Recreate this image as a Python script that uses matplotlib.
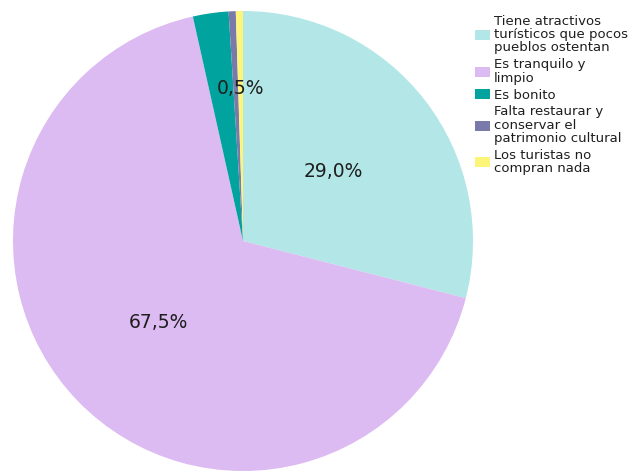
import matplotlib
matplotlib.use("Agg")
import matplotlib.pyplot as plt
import numpy as np
from matplotlib.patches import Patch

categories = ["Tiene atractivos\nturísticos que pocos\npueblos ostentan",
              "Es tranquilo y\nlimpio",
              "Es bonito",
              "Falta restaurar y\nconservar el\npatrimonio cultural",
              "Los turistas no\ncompran nada"]
values = [29.0, 67.5, 2.5, 0.5, 0.5]
colors = ["#b3e6e7", "#dcbaf2", "#00a39d", "#7a7aaa", "#fcf57a"]
shown_labels = {0: "29,0%", 1: "67,5%", 4: "0,5%"}
label_dist = {0: 0.495, 1: 0.51, 4: 0.665}

fig = plt.figure(figsize=(6.29, 4.71), dpi=100)
ax = fig.add_axes([(243 - 230) / 629, 0, 460 / 629, 460 / 471])
wedges, _ = ax.pie(values, colors=colors, startangle=90, counterclock=False,
                   radius=1, wedgeprops=dict(linewidth=0))
ax.set_xlim(-1, 1)
ax.set_ylim(-1, 1)
ax.set_aspect("equal")
ax.axis("off")

for i, txt in shown_labels.items():
    w = wedges[i]
    ang = np.deg2rad((w.theta1 + w.theta2) / 2)
    r = label_dist[i]
    ax.text(r * np.cos(ang), r * np.sin(ang), txt, ha="center", va="center",
            fontsize=13.5, color="#1e1e1e")

handles = [Patch(facecolor=c, edgecolor="none") for c in colors]
leg = fig.legend(handles, categories, loc="upper left",
                 bbox_to_anchor=(475 / 629, 1 - 15 / 471),
                 frameon=False, fontsize=9.5, handlelength=1.15, handleheight=0.8,
                 handletextpad=0.3, labelspacing=0.3, borderaxespad=0, borderpad=0.0)
for t in leg.get_texts():
    t.set_linespacing(1.02)
    t.set_color("#1e1e1e")

fig.savefig("out.png", dpi=100)
